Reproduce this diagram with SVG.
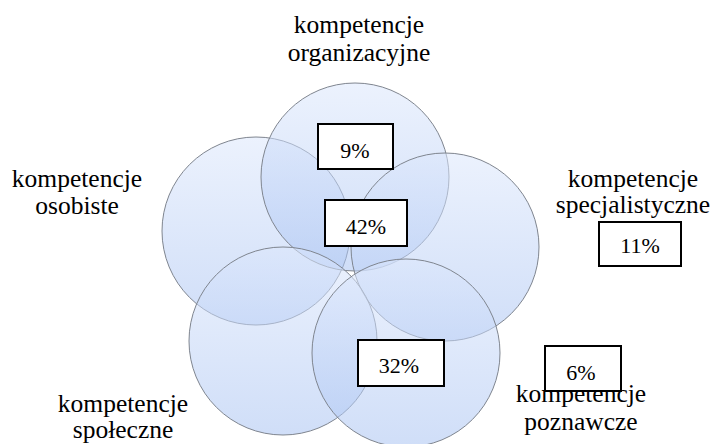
<svg xmlns="http://www.w3.org/2000/svg" width="717" height="444" viewBox="0 0 717 444">
<defs>
<linearGradient id="cg" x1="0" y1="0" x2="0" y2="1">
<stop offset="0" stop-color="#DCE7FC"/>
<stop offset="1" stop-color="#A9C3F2"/>
</linearGradient>
<style>
.c{fill:url(#cg);fill-opacity:0.55;stroke:#7f858f;stroke-width:1}
.t{font-family:'Liberation Serif',serif;font-size:25.5px;fill:#000;text-anchor:middle}
.p{font-family:'Liberation Serif',serif;font-size:22px;fill:#000;text-anchor:middle}
.b{fill:#fff;stroke:#000;stroke-width:2}
</style>
</defs>
<rect width="717" height="444" fill="#fff"/>
<g id="circles">
<g id="node-osobiste"><circle class="c" cx="256" cy="231" r="94"/></g>
<g id="node-organizacyjne"><circle class="c" cx="355" cy="177" r="94"/></g>
<g id="node-specjalistyczne"><circle class="c" cx="445" cy="247" r="94"/></g>
<g id="node-spoleczne"><circle class="c" cx="283" cy="341" r="94"/></g>
<g id="node-poznawcze"><circle class="c" cx="406" cy="353" r="94"/></g>
</g>
<g id="connectors"/>
<g id="labels">
<g id="label-organizacyjne"><text class="t" x="359" y="33">kompetencje</text><text class="t" x="359" y="61">organizacyjne</text></g>
<g id="label-osobiste"><text class="t" x="77" y="187">kompetencje</text><text class="t" x="77" y="214">osobiste</text></g>
<g id="label-specjalistyczne"><text class="t" x="633" y="187">kompetencje</text><text class="t" x="633" y="213">specjalistyczne</text></g>
<g id="label-poznawcze"><text class="t" x="581" y="402">kompetencje</text><text class="t" x="581" y="430">poznawcze</text></g>
<g id="label-spoleczne"><text class="t" x="123" y="412">kompetencje</text><text class="t" x="123" y="438">społeczne</text></g>
<g id="value-9"><rect class="b" x="318" y="124" width="75" height="45"/><text class="p" x="355" y="158">9%</text></g>
<g id="value-42"><rect class="b" x="325" y="200" width="82" height="46"/><text class="p" x="366" y="234">42%</text></g>
<g id="value-32"><rect class="b" x="358" y="340" width="86" height="46"/><text class="p" x="399" y="373">32%</text></g>
<g id="value-6"><rect class="b" x="545" y="346" width="76" height="45"/><text class="p" x="581" y="380">6%</text></g>
<g id="value-11"><rect class="b" x="599" y="222" width="82" height="44"/><text class="p" x="640" y="253">11%</text></g>
</g>
</svg>
